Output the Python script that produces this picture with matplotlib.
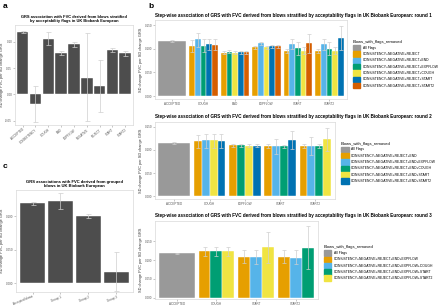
import matplotlib.pyplot as plt
import numpy as np

plt.rcParams['font.family'] = ['Liberation Sans', 'DejaVu Sans']

# ---- panel a: blows stratified by flags
a_labels = ["ACCEPTED", "CONSISTENCY", "COUGH", "END", "EXPFLOW", "NEGATIVE", "REJECT", "START", "START2"]
a_beta = [0.119, -0.018, 0.106, 0.079, 0.095, 0.032, 0.016, 0.084, 0.078]
a_lo = [0.117, -0.053, 0.094, 0.075, 0.091, -0.050, -0.033, 0.080, 0.074]
a_hi = [0.121, 0.017, 0.119, 0.083, 0.099, 0.116, 0.066, 0.088, 0.082]

# ---- panel c: grouped blows
c_labels = ["Accepted blows", "Group 1", "Group 2", "Group 3"]
c_beta = [0.119, 0.123, 0.101, 0.017]
c_lo = [0.117, 0.111, 0.098, -0.011]
c_hi = [0.121, 0.135, 0.104, 0.046]

# ---- panel b: step-wise rounds
okabe = ["#999999", "#E69F00", "#56B4E9", "#009E73", "#F0E442", "#0072B2", "#D55E00"]

r1_series = ["All Flags", "CONSISTENCY+NEGATIVE+REJECT", "CONSISTENCY+NEGATIVE+REJECT+END",
             "CONSISTENCY+NEGATIVE+REJECT+EXPFLOW", "CONSISTENCY+NEGATIVE+REJECT+COUGH",
             "CONSISTENCY+NEGATIVE+REJECT+START", "CONSISTENCY+NEGATIVE+REJECT+START2"]
r1_groups = ["ACCEPTED", "COUGH", "END", "EXPFLOW", "START", "START2"]
r1_members = [[0], [1, 2, 3, 5, 6], [1, 3, 4, 5, 6], [1, 2, 4, 5, 6], [1, 2, 3, 4, 6], [1, 2, 3, 4, 5]]
r1_beta = [[0.117], [0.106, 0.121, 0.106, 0.110, 0.108], [0.091, 0.094, 0.091, 0.093, 0.093],
           [0.103, 0.112, 0.103, 0.105, 0.105], [0.096, 0.110, 0.101, 0.096, 0.112],
           [0.096, 0.110, 0.099, 0.096, 0.123]]
r1_lo = [[0.115], [0.094, 0.104, 0.094, 0.098, 0.098], [0.088, 0.091, 0.088, 0.089, 0.089],
         [0.100, 0.109, 0.100, 0.102, 0.102], [0.092, 0.099, 0.087, 0.088, 0.091],
         [0.092, 0.098, 0.087, 0.089, 0.098]]
r1_hi = [[0.119], [0.118, 0.134, 0.120, 0.121, 0.120], [0.095, 0.097, 0.095, 0.096, 0.096],
         [0.106, 0.115, 0.106, 0.108, 0.108], [0.100, 0.121, 0.114, 0.103, 0.132],
         [0.100, 0.121, 0.114, 0.103, 0.149]]

r2_series = ["All Flags", "CONSISTENCY+NEGATIVE+REJECT+END", "CONSISTENCY+NEGATIVE+REJECT+END+EXPFLOW",
             "CONSISTENCY+NEGATIVE+REJECT+END+COUGH", "CONSISTENCY+NEGATIVE+REJECT+END+START",
             "CONSISTENCY+NEGATIVE+REJECT+END+START2"]
r2_groups = ["ACCEPTED", "COUGH", "EXPFLOW", "START", "START2"]
r2_members = [[0], [1, 2, 4, 5], [1, 3, 4, 5], [1, 2, 3, 5], [1, 2, 3, 4]]
r2_beta = [[0.115], [0.119, 0.121, 0.121, 0.120], [0.110, 0.110, 0.109, 0.109],
           [0.108, 0.108, 0.108, 0.122], [0.108, 0.108, 0.108, 0.123]]
r2_lo = [[0.113], [0.105, 0.105, 0.105, 0.105], [0.107, 0.107, 0.106, 0.106],
         [0.104, 0.091, 0.105, 0.101], [0.104, 0.089, 0.105, 0.098]]
r2_hi = [[0.117], [0.132, 0.134, 0.134, 0.134], [0.113, 0.113, 0.112, 0.112],
         [0.112, 0.124, 0.111, 0.141], [0.112, 0.127, 0.112, 0.148]]

r3_series = ["All Flags", "CONSISTENCY+NEGATIVE+REJECT+END+EXPFLOW",
             "CONSISTENCY+NEGATIVE+REJECT+END+EXPFLOW+COUGH",
             "CONSISTENCY+NEGATIVE+REJECT+END+EXPFLOW+START",
             "CONSISTENCY+NEGATIVE+REJECT+END+EXPFLOW+START2"]
r3_groups = ["ACCEPTED", "COUGH", "START", "START2"]
r3_members = [[0], [1, 3, 4], [1, 2, 4], [1, 2, 3]]
r3_beta = [[0.118], [0.124, 0.124, 0.124], [0.109, 0.108, 0.134], [0.109, 0.107, 0.132]]
r3_lo = [[0.116], [0.110, 0.110, 0.110], [0.092, 0.091, 0.093], [0.092, 0.091, 0.075]]
r3_hi = [[0.120], [0.136, 0.136, 0.136], [0.126, 0.126, 0.176], [0.126, 0.127, 0.190]]

ERR = "#cfcfcf"
BORDER = "#d9d9d9"
YLAB = "SD change FVC per SD change GRS"


def style_axes(ax):
    for s in ax.spines.values():
        s.set_color(BORDER)
        s.set_linewidth(0.5)
    ax.tick_params(axis='both', labelsize=2.2, length=1.2, width=0.4, color="#999999",
                   labelcolor="#555555", pad=0.8)
    ax.set_ylabel(YLAB, fontsize=2.8, color="#333333", labelpad=1.0)


def simple_panel(ax, labels, beta, lo, hi, ylim, yticks, fmt, title, tsize, rot):
    x = np.arange(len(labels))
    beta = np.array(beta)
    yerr = [beta - np.array(lo), np.array(hi) - beta]
    ax.bar(x, beta, width=0.9, color="#4d4d4d", edgecolor="white", linewidth=0.3)
    ax.errorbar(x, beta, yerr=yerr, fmt='none', ecolor=ERR, elinewidth=0.5, capsize=1.8, capthick=0.5)
    ax.set_xlim(-0.6, len(labels) - 0.4)
    ax.set_ylim(*ylim)
    ax.set_yticks(yticks)
    ax.set_yticklabels([fmt.format(v) for v in yticks])
    ax.set_xticks(x)
    ax.set_xticklabels(labels, rotation=rot, ha='right', rotation_mode='anchor')
    style_axes(ax)
    ax.set_title(title, fontsize=tsize, fontweight='bold', pad=2, linespacing=1.1)


def round_panel(ax, groups, members, beta, lo, hi, series, ylim, title, legy):
    for gi, mem in enumerate(members):
        n = len(mem)
        w = 0.9 / n
        for j, si in enumerate(mem):
            xpos = gi - 0.45 + w * (j + 0.5)
            b = beta[gi][j]
            ax.bar(xpos, b, width=w, color=okabe[si], edgecolor="white", linewidth=0.3)
            ax.errorbar(xpos, b, yerr=[[b - lo[gi][j]], [hi[gi][j] - b]], fmt='none',
                        ecolor=ERR, elinewidth=0.5, capsize=1.2, capthick=0.5)
    ax.set_xlim(-0.55, len(groups) - 0.45)
    ax.set_ylim(*ylim)
    yt = [0.0, 0.05, 0.10, 0.15]
    ax.set_yticks(yt)
    ax.set_yticklabels(["{:.3f}".format(v) for v in yt])
    ax.set_xticks(np.arange(len(groups)))
    ax.set_xticklabels(groups)
    style_axes(ax)
    ax.set_title(title, fontsize=3.3, fontweight='bold', loc='left', pad=2.5)
    handles = [plt.Rectangle((0, 0), 1, 1, color=okabe[i]) for i in range(len(series))]
    leg = ax.legend(handles, series, title="Blows_with_flags_removed", loc='center left',
                    bbox_to_anchor=(1.0, legy), frameon=False, fontsize=2.4,
                    title_fontsize=3.0, handlelength=2.3, handleheight=2.1,
                    labelspacing=0.28, borderaxespad=1.4, handletextpad=0.7)
    leg._legend_box.align = "left"


fig = plt.figure(figsize=(4.4, 3.08), dpi=100)

ax_a = fig.add_axes([0.034, 0.594, 0.268, 0.325])
simple_panel(ax_a, a_labels, a_beta, a_lo, a_hi, (-0.058, 0.132), [-0.05, 0.0, 0.05, 0.10], "{:.2f}",
             "GRS association with FVC derived from blows stratified\nby acceptability flags in UK Biobank European",
             2.85, 40)

ax_c = fig.add_axes([0.036, 0.052, 0.266, 0.331])
simple_panel(ax_c, c_labels, c_beta, c_lo, c_hi, (-0.013, 0.139), [0.0, 0.05, 0.10], "{:.3f}",
             "GRS associations with FVC derived from grouped\nblows in UK Biobank European", 2.95, 22)

ttl = "Step-wise association of GRS with FVC derived from blows stratified by acceptability flags in UK Biobank European: round {}"
ax_b1 = fig.add_axes([0.352, 0.679, 0.436, 0.256])
round_panel(ax_b1, r1_groups, r1_members, r1_beta, r1_lo, r1_hi, r1_series, (-0.006, 0.161), ttl.format(1), 0.44)
ax_b2 = fig.add_axes([0.352, 0.354, 0.409, 0.251])
round_panel(ax_b2, r2_groups, r2_members, r2_beta, r2_lo, r2_hi, r2_series, (-0.006, 0.161), ttl.format(2), 0.47)
ax_b3 = fig.add_axes([0.352, 0.029, 0.370, 0.254])
round_panel(ax_b3, r3_groups, r3_members, r3_beta, r3_lo, r3_hi, r3_series, (-0.004, 0.205), ttl.format(3), 0.46)

fig.text(0.007, 0.99, "a", fontsize=6, fontweight='bold', va='top')
fig.text(0.338, 0.99, "b", fontsize=6, fontweight='bold', va='top')
fig.text(0.007, 0.47, "c", fontsize=6, fontweight='bold', va='top')

fig.savefig("out.png", dpi=100)
